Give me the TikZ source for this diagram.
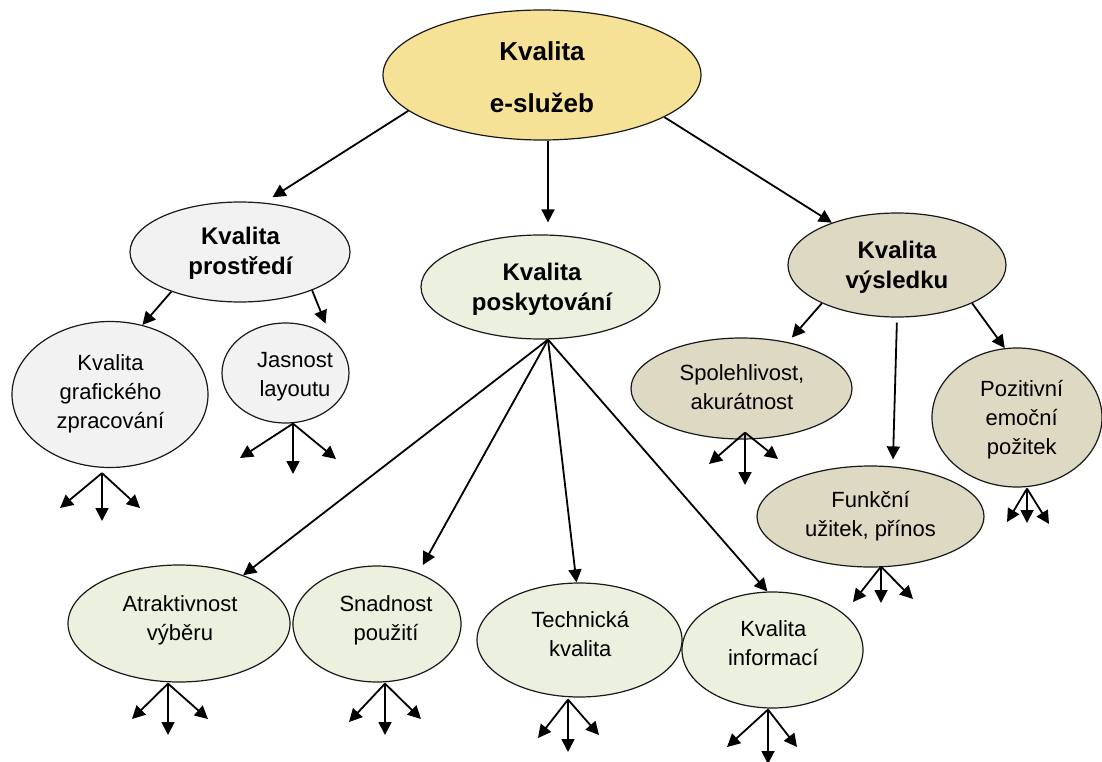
\documentclass[tikz,border=0pt]{standalone}
\usepackage{fontspec}
\setmainfont{Liberation Sans}
\usetikzlibrary{shapes.geometric,arrows.meta}
\definecolor{cTop}{RGB}{246,226,150}
\definecolor{cGray}{RGB}{242,242,242}
\definecolor{cGreen}{RGB}{235,241,222}
\definecolor{cTan}{RGB}{221,217,195}
\begin{document}
\begin{tikzpicture}[x=1pt,y=-1pt,
  ell/.style={ellipse, draw=black!90, line width=1.2pt, inner sep=0pt},
  leaftxt/.style={font=\fontsize{22}{29}\selectfont, align=center, inner sep=0pt},
  midtxt/.style={font=\fontsize{24}{30}\selectfont\bfseries, align=center, inner sep=0pt},
  toptxt/.style={font=\fontsize{26}{52}\selectfont\bfseries, align=center, inner sep=0pt},
  arr/.style={line width=1.8pt, -{Triangle[length=13pt,width=13pt]}},
]
\useasboundingbox (0,0) rectangle (1102,762);

% ellipses
\node[ell, fill=cTop,   minimum width=318pt, minimum height=130pt] (T)  at (542,75) {};
\node[ell, fill=cGray,  minimum width=220pt, minimum height=100pt] (P)  at (240,252) {};
\node[ell, fill=cGreen, minimum width=239pt, minimum height=104pt] (S)  at (540.5,287) {};
\node[ell, fill=cTan,   minimum width=218pt, minimum height=104pt] (V)  at (897,265) {};
\node[ell, fill=cGray,  minimum width=196pt, minimum height=146pt] (G)  at (110,394.5) {};
\node[ell, fill=cGray,  minimum width=127pt, minimum height=100pt] (J)  at (285.5,373) {};
\node[ell, fill=cTan,   minimum width=221pt, minimum height=101pt] (SP) at (741.5,388.5) {};
\node[ell, fill=cTan,   minimum width=227pt, minimum height=101pt] (F)  at (870.5,516.5) {};
\node[ell, fill=cTan,   minimum width=170pt, minimum height=139pt] (PO) at (1017,417.5) {};
\node[ell, fill=cGreen, minimum width=222pt, minimum height=117pt] (A)  at (179,623.5) {};
\node[ell, fill=cGreen, minimum width=168pt, minimum height=116pt] (SN) at (377,624) {};
\node[ell, fill=cGreen, minimum width=205pt, minimum height=114pt] (TE) at (579.5,640) {};
\node[ell, fill=cGreen, minimum width=181pt, minimum height=116pt] (I)  at (772.5,650) {};

% texts
\node[toptxt]  (Tt)  at (542,77.5)    {Kvalita\\e-služeb};
\node[midtxt]  (Pt)  at (240.5,253)   {Kvalita\\prostředí};
\node[midtxt]  (St)  at (542,289.6)   {Kvalita\\poskytování};
\node[midtxt]  (Vt)  at (897,266.8)   {Kvalita\\výsledku};
\node[leaftxt] (Gt)  at (110.5,394.3) {Kvalita\\grafického\\zpracování};
\node[leaftxt] (Jt)  at (295,376.8)   {Jasnost\\layoutu};
\node[leaftxt] (SPt) at (742,387.2)   {Spolehlivost,\\akurátnost};
\node[leaftxt] (Ft)  at (870.5,516.3) {Funkční\\užitek, přínos};
\node[leaftxt] (POt) at (1021.7,419.5){Pozitivní\\emoční\\požitek};
\node[leaftxt] (At)  at (180,620.6)   {Atraktivnost\\výběru};
\node[leaftxt] (SNt) at (386,620.6)   {Snadnost\\použití};
\node[leaftxt] (TEt) at (580.3,634.5) {Technická\\kvalita};
\node[leaftxt] (It)  at (773.3,643)   {Kvalita\\informací};

% main connectors
\draw[arr, shorten >=10pt] (T.195) -- (P.64);
\draw[arr, shorten >=12pt] ([xshift=6pt]T.south) -- ([xshift=7.5pt]S.north);
\draw[arr] (T.341) -- (V.147);
\draw[arr] (P.210) -- (G.65);
\draw[arr, shorten >=15pt] (P.332) -- (J.38);
\draw[arr] ([xshift=7.5pt]S.south) -- (A.37);
\draw[arr, shorten >=9pt] ([xshift=7.5pt]S.south) -- (SN.51);
\draw[arr] ([xshift=7.5pt]S.south) -- (TE.93);
\draw[arr] ([xshift=7.5pt]S.south) -- (I.95);
\draw[arr, shorten >=6pt] (V.207) -- (SP.45);
\draw[arr, shorten <=5pt, shorten >=7pt] (V.south) -- (F.66);
\draw[arr] (V.333) -- (PO.100);

% fan end points
\coordinate (G1) at (60,508);   \coordinate (G2) at (102,521);  \coordinate (G3) at (140,508);
\coordinate (J1) at (240,458);  \coordinate (J2) at (293,474);  \coordinate (J3) at (336,459);
\coordinate (SP1) at (709,464); \coordinate (SP2) at (745,485); \coordinate (SP3) at (778,459);
\coordinate (F1) at (853,602);  \coordinate (F2) at (881,603);  \coordinate (F3) at (913,599);
\coordinate (PO1) at (1007,522);\coordinate (PO2) at (1027,523);\coordinate (PO3) at (1049,524);
\coordinate (A1) at (132,719);  \coordinate (A2) at (168,735);  \coordinate (A3) at (208,719);
\coordinate (SN1) at (349,722); \coordinate (SN2) at (385,735); \coordinate (SN3) at (421,719);
\coordinate (TE1) at (538,738); \coordinate (TE2) at (568,752); \coordinate (TE3) at (599,735);
\coordinate (I1) at (727,747);  \coordinate (I2) at (768,764);  \coordinate (I3) at (797,747);

% fans
\foreach \k in {1,2,3} {
  \draw[arr] ([shift={(-8,5)}]G.south) -- (G\k);
  \draw[arr] ([shift={(7.5,0)}]J.south) -- (J\k);
  \draw[arr] ([shift={(3.5,-7)}]SP.south) -- (SP\k);
  \draw[arr] ([shift={(10.5,-1)}]F.south) -- (F\k);
  \draw[arr] ([shift={(10,1)}]PO.south) -- (PO\k);
  \draw[arr] ([shift={(-11,1)}]A.south) -- (A\k);
  \draw[arr] ([shift={(8,1)}]SN.south) -- (SN\k);
  \draw[arr] ([shift={(-11.5,2)}]TE.south) -- (TE\k);
  \draw[arr] ([shift={(-4.5,1)}]I.south) -- (I\k);
}
\end{tikzpicture}
\end{document}
